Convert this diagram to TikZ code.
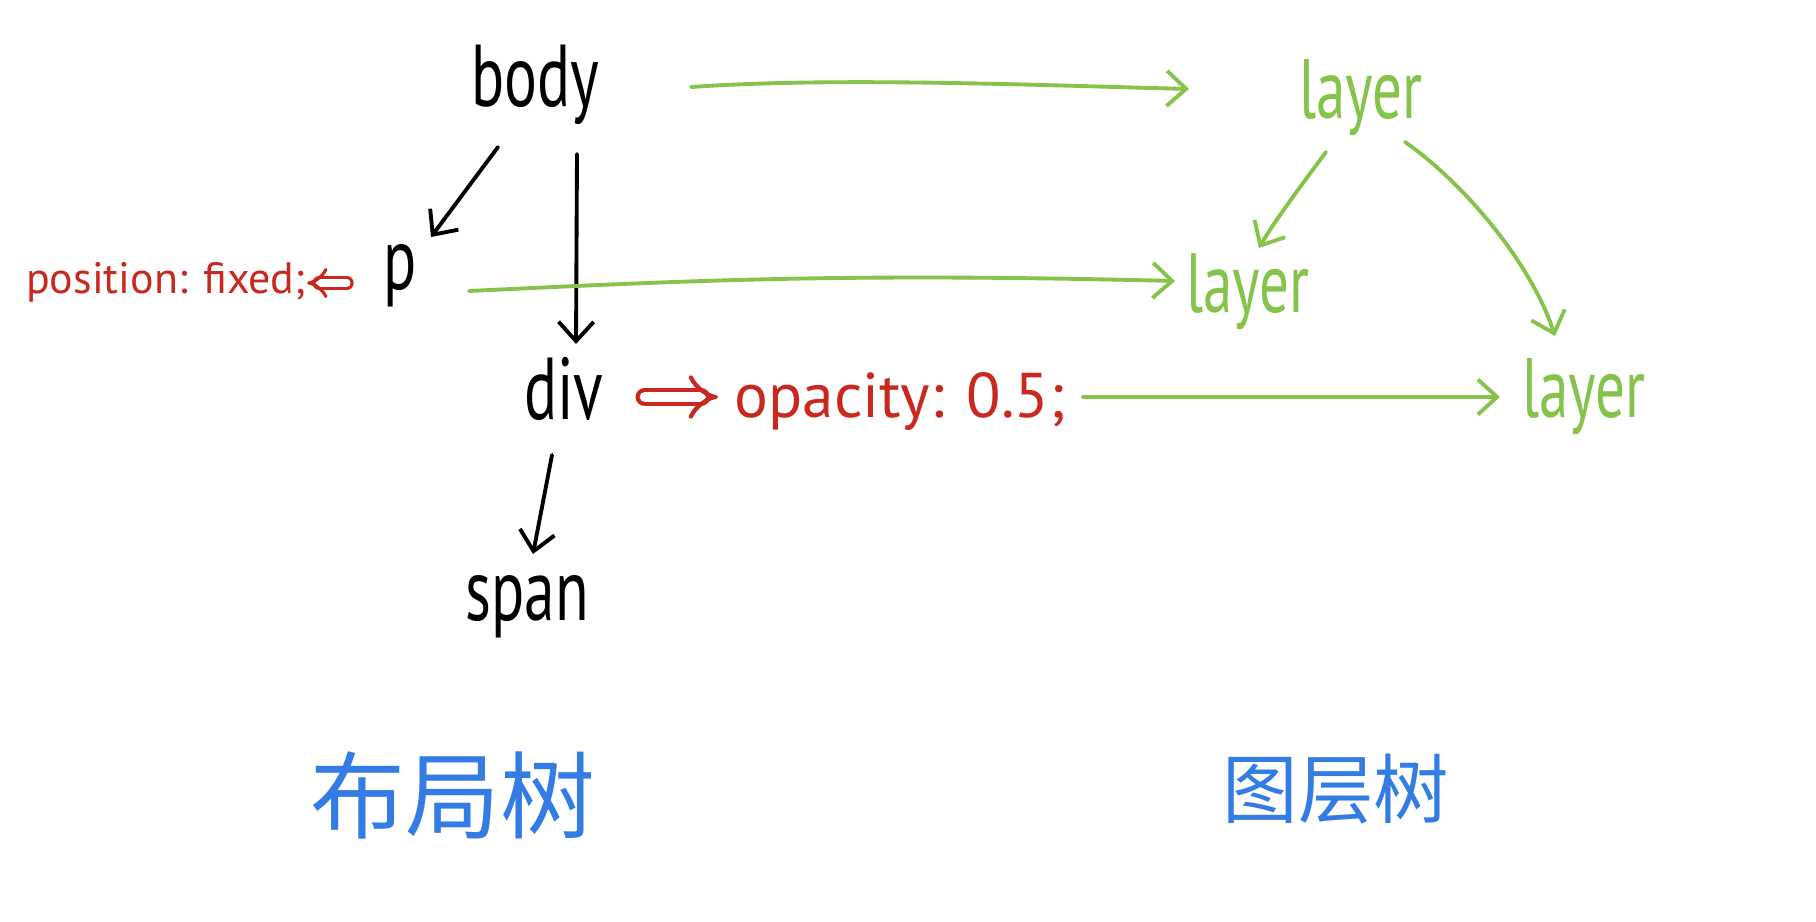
\documentclass[tikz,border=0pt]{standalone}
\usepackage{fontspec}
\setmainfont{PT Sans}
\newfontfamily\handc[FakeStretch=0.7]{PT Sans}
\newfontfamily\cjk{Noto Sans CJK SC}
\usetikzlibrary{arrows.meta,calc}
\definecolor{hred}{RGB}{200,40,30}
\definecolor{hgreen}{RGB}{134,195,74}
\definecolor{hblue}{RGB}{50,124,228}
\begin{document}
\begin{tikzpicture}[x=0.02cm,y=-0.02cm,
  blackword/.style={anchor=base,inner sep=0pt,text=black,font=\handc\fontsize{50}{56}\selectfont},
  greenword/.style={anchor=base,inner sep=0pt,text=hgreen,font=\handc\fontsize{48}{54}\selectfont},
  redword/.style={anchor=base,inner sep=0pt,text=hred},
  cjkword/.style={inner sep=0pt,text=hblue},
  barb/.style={line width=2.2pt,line cap=round,line join=round,
    -{Straight Barb[length=11pt,width=20pt,line width=2.2pt]}},
  blkarrow/.style={barb,draw=black},
  grnarrow/.style={barb,draw=hgreen},
  dblarrow/.style={draw=hred,line width=2.4pt,double=white,double distance=6pt,
    line cap=round,-{Implies[scale=1.5]}},
  smalldbl/.style={draw=hred,line width=1.8pt,double=white,double distance=4pt,
    line cap=round,-{Implies[scale=1.3]}}]
\useasboundingbox[fill=white] (0,0) rectangle (1816,922);

% layout tree
\node[blackword] (body) at (535,107) {body};
\node[blackword] (p) at (400,290) {p};
\node[blackword] (div) at (564,419) {div};
\node[blackword] (span) at (527,620) {span};
\node[redword,font=\fontsize{25}{30}\selectfont] (pos) at (166,294) {position: fixed;};
\node[redword,font=\fontsize{36}{42}\selectfont] (opa) at (900,417) {opacity: 0.5;};

% layer tree
\node[greenword] (L1) at (1361,119) {layer};
\node[greenword] (L2) at (1248,313) {layer};
\node[greenword] (L3) at (1584,417) {layer};

% titles
\node[cjkword,font=\cjk\fontsize{54}{58}\selectfont] (T1) at (453,795) {布局树};
\node[cjkword,font=\cjk\fontsize{43}{48}\selectfont] (T2) at (1336,789) {图层树};

% black tree arrows
\draw[blkarrow] ($(body.base)+(-37,40)$) -- ($(p.base)+(31,-53)$);
\draw[blkarrow] ($(body.base)+(42,47)$) -- ($(div.base)+(12,-75)$);
\draw[blkarrow] ($(div.base)+(-12,36)$) -- ($(span.base)+(6,-66)$);

% red double arrows
\draw[dblarrow] ($(div.base)+(81,-22)$) -- ($(opa.base)+(-182,-20)$);
\draw[smalldbl] ($(p.base)+(-53,-7)$) -- ($(pos.base)+(141,-11)$);

% green arrows
\draw[grnarrow] ($(body.base)+(156,-20)$) .. controls ($(body.base)+(300,-30)$) and ($(L1.base)+(-330,-34)$) .. ($(L1.base)+(-172,-30)$);
\draw[grnarrow] ($(p.base)+(69,1)$) .. controls ($(p.base)+(300,-10)$) and ($(L2.base)+(-400,-40)$) .. ($(L2.base)+(-73,-32)$);
\draw[grnarrow] ($(opa.base)+(183,-20)$) -- ($(L3.base)+(-84,-20)$);
\draw[grnarrow] ($(L1.base)+(-35,33)$) .. controls ($(L1.base)+(-55,60)$) and ($(L2.base)+(25,-90)$) .. ($(L2.base)+(11,-65)$);
\draw[grnarrow] ($(L1.base)+(44,23)$) .. controls ($(L1.base)+(99,61)$) and ($(L3.base)+(-54,-157)$) .. ($(L3.base)+(-29,-81)$);
\end{tikzpicture}
\end{document}
